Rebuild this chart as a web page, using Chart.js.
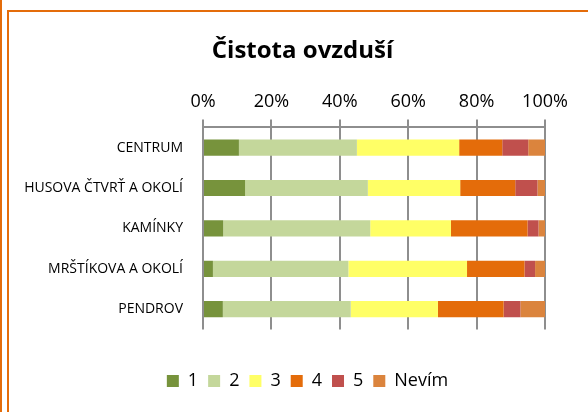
<!DOCTYPE html>
<html>
<head>
<meta charset="utf-8">
<script src="https://cdn.jsdelivr.net/npm/chart.js@4"></script>
<style>
  html, body { margin: 0; padding: 0; background: #fff; }
  #wrap { position: relative; width: 588px; height: 412px; overflow: hidden; }
  #myChart { position: absolute; left: 0; top: 0; }
  .edge { position: absolute; background: #E46C0A; pointer-events: none; }
</style>
</head>
<body>
<div id="wrap">
  <canvas id="myChart" width="588" height="412"></canvas>
  <div class="edge" style="left:0;top:0;width:2px;height:412px;"></div>
  <div class="edge" style="left:7px;top:10px;width:2px;height:402px;"></div>
  <div class="edge" style="left:7px;top:10px;width:581px;height:2px;"></div>
</div>
<script>
const categories = ["CENTRUM", "HUSOVA ČTVRŤ A OKOLÍ", "KAMÍNKY", "MRŠTÍKOVA A OKOLÍ", "PENDROV"];
const seriesNames = ["1", "2", "3", "4", "5", "Nevím"];
const colors = ["#77933C", "#C4D79B", "#FFFF66", "#E46C0A", "#C0504D", "#DB843D"];

// podíly v % pro každou lokalitu
const s1 = [10.5, 12.3, 5.9, 2.9, 5.8];
const s2 = [34.5, 35.9, 43.0, 39.6, 37.4];
const s3 = [29.9, 27.0, 23.6, 34.7, 25.5];
const s4 = [12.6, 16.1, 22.4, 16.8, 19.2];
const s5 = [7.6, 6.5, 3.2, 3.1, 4.9];
const sN = [4.9, 2.2, 1.9, 2.9, 7.2];
const xTicks = [0, 20, 40, 60, 80, 100];

const values = [s1, s2, s3, s4, s5, sN];
const gridColor = "#8e8e8e";

// posune titulek a legendu doprava, aby byly jako v Excelu
const shiftBoxes = {
  id: 'shiftBoxes',
  afterLayout(chart) {
    chart.titleBlock.left += 25;
    chart.titleBlock.right += 25;
    chart.legend.left += 30;
    chart.legend.right += 30;
  }
};

const ctx = document.getElementById('myChart');
new Chart(ctx, {
  type: 'bar',
  data: {
    labels: categories,
    datasets: seriesNames.map((name, i) => ({
      label: name,
      data: values[i],
      backgroundColor: colors[i],
      borderWidth: 0,
      barPercentage: 0.4,
      categoryPercentage: 1
    }))
  },
  options: {
    indexAxis: 'y',
    responsive: false,
    animation: false,
    layout: { padding: { left: 10, right: 43, top: 20, bottom: 12 } },
    scales: {
      x: {
        position: 'top',
        stacked: true,
        min: 0,
        max: 100,
        afterBuildTicks: (axis) => { axis.ticks = xTicks.map(v => ({ value: v })); },
        ticks: {
          callback: (v) => v + '%',
          color: '#000',
          padding: 7,
          font: { family: 'Open Sans', size: 18 }
        },
        grid: { color: gridColor, lineWidth: 2, tickLength: 8 },
        border: { display: true, color: gridColor, width: 2 }
      },
      y: {
        stacked: true,
        afterFit: (axis) => { axis.width = 193; },
        ticks: {
          color: '#000',
          padding: 12,
          font: { family: 'Open Sans', size: 14 }
        },
        grid: { display: false },
        border: { display: false }
      }
    },
    plugins: {
      title: {
        display: true,
        text: 'Čistota ovzduší',
        color: '#000',
        font: { family: 'Open Sans', size: 24, weight: 'bold' },
        padding: { top: 17, bottom: 18 }
      },
      legend: {
        position: 'bottom',
        title: { display: true, text: '', padding: { top: 11, bottom: 0 }, font: { size: 18 } },
        labels: {
          color: '#000',
          boxWidth: 12,
          boxHeight: 12,
          padding: 10,
          font: { family: 'Open Sans', size: 18 }
        }
      },
      tooltip: { enabled: false }
    }
  },
  plugins: [shiftBoxes]
});
</script>
</body>
</html>
